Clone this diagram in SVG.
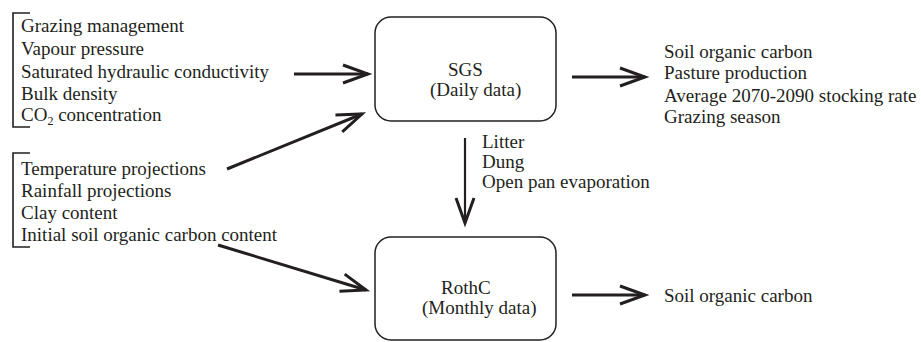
<svg xmlns="http://www.w3.org/2000/svg" width="921" height="342" viewBox="0 0 921 342">
  <style>
    text { font-family: "Liberation Serif", "Times New Roman", serif; font-size: 19px; fill: #231f20; }
    .box { fill: none; stroke: #231f20; stroke-width: 1.5; }
    .bracket { fill: none; stroke: #231f20; stroke-width: 1.6; }
    .arrow { fill: none; stroke: #231f20; stroke-width: 3; }
    .arrow-thin { fill: none; stroke: #231f20; stroke-width: 2.2; }
  </style>
  <defs>
    <marker id="open-head" markerUnits="userSpaceOnUse" markerWidth="40" markerHeight="30" viewBox="-30 -15 40 30" refX="0" refY="0" orient="auto">
      <path d="M-25,-9 L0,0 L-25,9" fill="none" stroke="#231f20" stroke-width="3"/>
    </marker>
  </defs>

  <!-- SGS model inputs -->
  <g id="sgs-inputs">
    <path class="bracket" d="M30,13 H13 V127 H30"/>
    <text x="21" y="32">Grazing management</text>
    <text x="21" y="55">Vapour pressure</text>
    <text x="21" y="78">Saturated hydraulic conductivity</text>
    <text x="21" y="100">Bulk density</text>
    <text x="21" y="121">CO<tspan font-size="12" dy="4">2</tspan><tspan dy="-4"> concentration</tspan></text>
  </g>

  <!-- Shared climate and soil inputs -->
  <g id="shared-inputs">
    <path class="bracket" d="M30,153 H13 V247 H30"/>
    <text x="21" y="175">Temperature projections</text>
    <text x="21" y="197">Rainfall projections</text>
    <text x="21" y="219">Clay content</text>
    <text x="21" y="241">Initial soil organic carbon content</text>
  </g>

  <!-- SGS model -->
  <g id="sgs">
    <rect class="box" x="375" y="17" width="181" height="104" rx="16" ry="16"/>
    <text x="448" y="76">SGS</text>
    <text x="430" y="96">(Daily data)</text>
  </g>

  <!-- SGS outputs -->
  <g id="sgs-outputs">
    <text x="664" y="58">Soil organic carbon</text>
    <text x="664" y="79">Pasture production</text>
    <text x="664" y="102">Average 2070-2090 stocking rate</text>
    <text x="664" y="123">Grazing season</text>
  </g>

  <!-- Variables passed from SGS to RothC -->
  <g id="transfer-vars">
    <text x="482" y="148">Litter</text>
    <text x="482" y="168">Dung</text>
    <text x="482" y="188">Open pan evaporation</text>
  </g>

  <!-- RothC model -->
  <g id="rothc">
    <rect class="box" x="375" y="237" width="181" height="103" rx="16" ry="16"/>
    <text x="441" y="294">RothC</text>
    <text x="422" y="314">(Monthly data)</text>
  </g>

  <!-- RothC output -->
  <g id="rothc-output">
    <text x="664" y="302">Soil organic carbon</text>
  </g>

  <!-- Connectors -->
  <g id="connectors">
    <line class="arrow" x1="294" y1="74" x2="368" y2="74" marker-end="url(#open-head)"/>
    <line class="arrow" x1="227" y1="169" x2="362" y2="114" marker-end="url(#open-head)"/>
    <line class="arrow" x1="572" y1="77" x2="645" y2="77" marker-end="url(#open-head)"/>
    <line class="arrow-thin" x1="465" y1="138" x2="465" y2="223" marker-end="url(#open-head)"/>
    <line class="arrow" x1="218" y1="245" x2="366" y2="290" marker-end="url(#open-head)"/>
    <line class="arrow" x1="572" y1="295" x2="645" y2="295" marker-end="url(#open-head)"/>
  </g>
</svg>
